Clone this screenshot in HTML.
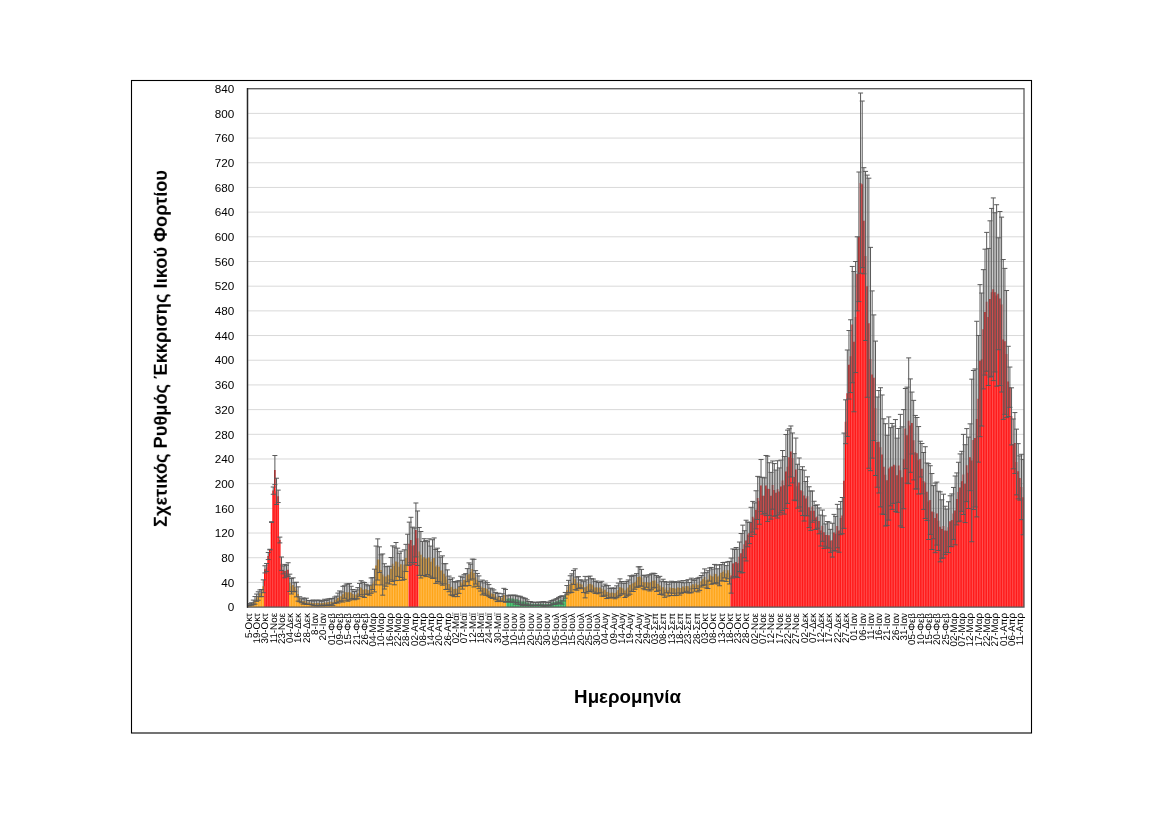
<!DOCTYPE html><html><head><meta charset="utf-8"><style>html,body{margin:0;padding:0;background:#fff;}svg{display:block;}</style></head><body><svg width="1169" height="826" viewBox="0 0 1169 826" font-family="Liberation Sans, sans-serif"><rect x="0" y="0" width="1169" height="826" fill="#fff"/><rect x="131.5" y="80.5" width="900" height="652.5" fill="none" stroke="#000" stroke-width="1.1"/><path d="M247.5 582.41H1024.0 M247.5 557.73H1024.0 M247.5 533.04H1024.0 M247.5 508.36H1024.0 M247.5 483.67H1024.0 M247.5 458.99H1024.0 M247.5 434.30H1024.0 M247.5 409.61H1024.0 M247.5 384.93H1024.0 M247.5 360.24H1024.0 M247.5 335.56H1024.0 M247.5 310.87H1024.0 M247.5 286.19H1024.0 M247.5 261.50H1024.0 M247.5 236.81H1024.0 M247.5 212.13H1024.0 M247.5 187.44H1024.0 M247.5 162.76H1024.0 M247.5 138.07H1024.0 M247.5 113.39H1024.0 M247.5 88.70H1024.0" stroke="#D9D9D9" stroke-width="1" fill="none"/><path d="M247.47 607.10V605.29H249.18V607.10ZM249.13 607.10V604.69H250.84V607.10ZM250.79 607.10V603.91H252.50V607.10ZM252.45 607.10V602.41H254.16V607.10ZM254.11 607.10V600.33H255.82V607.10ZM255.77 607.10V597.69H257.48V607.10ZM257.43 607.10V596.00H259.14V607.10ZM259.09 607.10V593.30H260.80V607.10ZM260.75 607.10V593.08H262.46V607.10ZM262.41 607.10V586.28H264.12V607.10ZM288.95 607.10V582.81H290.66V607.10ZM290.61 607.10V586.27H292.32V607.10ZM292.27 607.10V584.88H293.98V607.10ZM293.93 607.10V587.10H295.64V607.10ZM295.59 607.10V589.54H297.30V607.10ZM297.25 607.10V593.99H298.96V607.10ZM298.91 607.10V599.26H300.62V607.10ZM300.57 607.10V600.79H302.28V607.10ZM302.23 607.10V601.03H303.94V607.10ZM303.89 607.10V601.30H305.60V607.10ZM305.55 607.10V601.29H307.26V607.10ZM307.21 607.10V602.46H308.91V607.10ZM308.86 607.10V602.43H310.57V607.10ZM310.52 607.10V602.80H312.23V607.10ZM312.18 607.10V602.88H313.89V607.10ZM313.84 607.10V603.14H315.55V607.10ZM315.50 607.10V603.05H317.21V607.10ZM317.16 607.10V602.95H318.87V607.10ZM318.82 607.10V603.04H320.53V607.10ZM320.48 607.10V603.19H322.19V607.10ZM322.14 607.10V603.07H323.85V607.10ZM323.80 607.10V602.41H325.51V607.10ZM325.46 607.10V602.73H327.17V607.10ZM327.12 607.10V602.24H328.83V607.10ZM328.78 607.10V602.02H330.48V607.10ZM330.43 607.10V601.61H332.14V607.10ZM332.09 607.10V602.03H333.80V607.10ZM333.75 607.10V600.24H335.46V607.10ZM335.41 607.10V599.39H337.12V607.10ZM337.07 607.10V598.05H338.78V607.10ZM338.73 607.10V596.39H340.44V607.10ZM340.39 607.10V596.36H342.10V607.10ZM342.05 607.10V594.16H343.76V607.10ZM343.71 607.10V592.00H345.42V607.10ZM345.37 607.10V592.13H347.08V607.10ZM347.03 607.10V592.59H348.74V607.10ZM348.69 607.10V591.88H350.39V607.10ZM350.34 607.10V592.71H352.05V607.10ZM352.00 607.10V593.99H353.71V607.10ZM353.66 607.10V595.65H355.37V607.10ZM355.32 607.10V594.45H357.03V607.10ZM356.98 607.10V593.23H358.69V607.10ZM358.64 607.10V589.80H360.35V607.10ZM360.30 607.10V587.75H362.01V607.10ZM361.96 607.10V589.41H363.67V607.10ZM363.62 607.10V590.00H365.33V607.10ZM365.28 607.10V589.26H366.99V607.10ZM366.94 607.10V590.06H368.65V607.10ZM368.60 607.10V590.16H370.30V607.10ZM370.25 607.10V585.61H371.96V607.10ZM371.91 607.10V583.58H373.62V607.10ZM373.57 607.10V580.54H375.28V607.10ZM375.23 607.10V565.45H376.94V607.10ZM376.89 607.10V559.46H378.60V607.10ZM378.55 607.10V559.70H380.26V607.10ZM380.21 607.10V569.89H381.92V607.10ZM381.87 607.10V574.55H383.58V607.10ZM383.53 607.10V576.39H385.24V607.10ZM385.19 607.10V576.45H386.90V607.10ZM386.85 607.10V574.67H388.56V607.10ZM388.51 607.10V575.17H390.22V607.10ZM390.17 607.10V568.79H391.87V607.10ZM391.82 607.10V563.65H393.53V607.10ZM393.48 607.10V565.91H395.19V607.10ZM395.14 607.10V561.56H396.85V607.10ZM396.80 607.10V562.28H398.51V607.10ZM398.46 607.10V566.78H400.17V607.10ZM400.12 607.10V564.35H401.83V607.10ZM401.78 607.10V570.21H403.49V607.10ZM403.44 607.10V564.59H405.15V607.10ZM405.10 607.10V557.95H406.81V607.10ZM406.76 607.10V549.67H408.47V607.10ZM418.37 607.10V551.40H420.08V607.10ZM420.03 607.10V554.75H421.74V607.10ZM421.69 607.10V558.43H423.40V607.10ZM423.35 607.10V557.15H425.06V607.10ZM425.01 607.10V558.62H426.72V607.10ZM426.67 607.10V558.16H428.38V607.10ZM428.33 607.10V557.45H430.04V607.10ZM429.99 607.10V561.67H431.69V607.10ZM431.64 607.10V559.07H433.35V607.10ZM433.30 607.10V558.02H435.01V607.10ZM434.96 607.10V566.43H436.67V607.10ZM436.62 607.10V564.88H438.33V607.10ZM438.28 607.10V566.83H439.99V607.10ZM439.94 607.10V570.59H441.65V607.10ZM441.60 607.10V570.53H443.31V607.10ZM443.26 607.10V573.79H444.97V607.10ZM444.92 607.10V576.59H446.63V607.10ZM446.58 607.10V579.58H448.29V607.10ZM448.24 607.10V583.91H449.95V607.10ZM449.90 607.10V587.21H451.61V607.10ZM451.56 607.10V586.77H453.26V607.10ZM453.21 607.10V589.09H454.92V607.10ZM454.87 607.10V588.39H456.58V607.10ZM456.53 607.10V588.88H458.24V607.10ZM458.19 607.10V587.02H459.90V607.10ZM459.85 607.10V581.46H461.56V607.10ZM461.51 607.10V583.17H463.22V607.10ZM463.17 607.10V580.08H464.88V607.10ZM464.83 607.10V579.87H466.54V607.10ZM466.49 607.10V575.18H468.20V607.10ZM468.15 607.10V574.23H469.86V607.10ZM469.81 607.10V572.12H471.52V607.10ZM471.47 607.10V569.06H473.17V607.10ZM473.12 607.10V573.12H474.83V607.10ZM474.78 607.10V577.33H476.49V607.10ZM476.44 607.10V579.85H478.15V607.10ZM478.10 607.10V582.30H479.81V607.10ZM479.76 607.10V586.25H481.47V607.10ZM481.42 607.10V587.48H483.13V607.10ZM483.08 607.10V588.06H484.79V607.10ZM484.74 607.10V588.04H486.45V607.10ZM486.40 607.10V588.99H488.11V607.10ZM488.06 607.10V590.63H489.77V607.10ZM489.72 607.10V592.84H491.43V607.10ZM491.38 607.10V593.67H493.08V607.10ZM493.03 607.10V593.95H494.74V607.10ZM494.69 607.10V596.05H496.40V607.10ZM496.35 607.10V597.48H498.06V607.10ZM498.01 607.10V597.10H499.72V607.10ZM499.67 607.10V598.84H501.38V607.10ZM501.33 607.10V597.67H503.04V607.10ZM502.99 607.10V594.90H504.70V607.10ZM504.65 607.10V595.87H506.36V607.10ZM566.04 607.10V590.16H567.75V607.10ZM567.70 607.10V586.68H569.41V607.10ZM569.36 607.10V584.24H571.07V607.10ZM571.02 607.10V583.07H572.73V607.10ZM572.68 607.10V577.43H574.39V607.10ZM574.34 607.10V579.28H576.04V607.10ZM575.99 607.10V583.57H577.70V607.10ZM577.65 607.10V582.58H579.36V607.10ZM579.31 607.10V583.77H581.02V607.10ZM580.97 607.10V584.44H582.68V607.10ZM582.63 607.10V586.92H584.34V607.10ZM584.29 607.10V587.13H586.00V607.10ZM585.95 607.10V586.50H587.66V607.10ZM587.61 607.10V584.17H589.32V607.10ZM589.27 607.10V583.82H590.98V607.10ZM590.93 607.10V584.44H592.64V607.10ZM592.59 607.10V585.55H594.30V607.10ZM594.25 607.10V587.38H595.95V607.10ZM595.90 607.10V587.13H597.61V607.10ZM597.56 607.10V588.19H599.27V607.10ZM599.22 607.10V587.61H600.93V607.10ZM600.88 607.10V588.67H602.59V607.10ZM602.54 607.10V591.24H604.25V607.10ZM604.20 607.10V589.68H605.91V607.10ZM605.86 607.10V592.00H607.57V607.10ZM607.52 607.10V591.70H609.23V607.10ZM609.18 607.10V593.29H610.89V607.10ZM610.84 607.10V592.62H612.55V607.10ZM612.50 607.10V593.10H614.21V607.10ZM614.16 607.10V593.37H615.86V607.10ZM615.81 607.10V591.76H617.52V607.10ZM617.47 607.10V589.98H619.18V607.10ZM619.13 607.10V587.15H620.84V607.10ZM620.79 607.10V587.78H622.50V607.10ZM622.45 607.10V588.57H624.16V607.10ZM624.11 607.10V590.41H625.82V607.10ZM625.77 607.10V588.82H627.48V607.10ZM627.43 607.10V587.62H629.14V607.10ZM629.09 607.10V584.98H630.80V607.10ZM630.75 607.10V583.80H632.46V607.10ZM632.41 607.10V583.33H634.12V607.10ZM634.07 607.10V582.45H635.77V607.10ZM635.73 607.10V580.38H637.43V607.10ZM637.38 607.10V577.03H639.09V607.10ZM639.04 607.10V576.41H640.75V607.10ZM640.70 607.10V577.74H642.41V607.10ZM642.36 607.10V582.05H644.07V607.10ZM644.02 607.10V582.50H645.73V607.10ZM645.68 607.10V582.09H647.39V607.10ZM647.34 607.10V582.41H649.05V607.10ZM649.00 607.10V582.84H650.71V607.10ZM650.66 607.10V581.81H652.37V607.10ZM652.32 607.10V580.64H654.03V607.10ZM653.98 607.10V580.52H655.69V607.10ZM655.64 607.10V583.50H657.34V607.10ZM657.29 607.10V583.82H659.00V607.10ZM658.95 607.10V585.38H660.66V607.10ZM660.61 607.10V587.66H662.32V607.10ZM662.27 607.10V587.19H663.98V607.10ZM663.93 607.10V589.39H665.64V607.10ZM665.59 607.10V587.45H667.30V607.10ZM667.25 607.10V590.13H668.96V607.10ZM668.91 607.10V587.57H670.62V607.10ZM670.57 607.10V588.36H672.28V607.10ZM672.23 607.10V587.95H673.94V607.10ZM673.89 607.10V588.62H675.60V607.10ZM675.55 607.10V588.77H677.25V607.10ZM677.20 607.10V587.61H678.91V607.10ZM678.86 607.10V588.07H680.57V607.10ZM680.52 607.10V587.93H682.23V607.10ZM682.18 607.10V586.50H683.89V607.10ZM683.84 607.10V587.71H685.55V607.10ZM685.50 607.10V586.02H687.21V607.10ZM687.16 607.10V586.29H688.87V607.10ZM688.82 607.10V587.66H690.53V607.10ZM690.48 607.10V585.46H692.19V607.10ZM692.14 607.10V584.33H693.85V607.10ZM693.80 607.10V585.77H695.51V607.10ZM695.46 607.10V583.59H697.16V607.10ZM697.11 607.10V584.89H698.82V607.10ZM698.77 607.10V583.81H700.48V607.10ZM700.43 607.10V581.28H702.14V607.10ZM702.09 607.10V579.27H703.80V607.10ZM703.75 607.10V576.88H705.46V607.10ZM705.41 607.10V580.30H707.12V607.10ZM707.07 607.10V579.62H708.78V607.10ZM708.73 607.10V574.56H710.44V607.10ZM710.39 607.10V575.84H712.10V607.10ZM712.05 607.10V576.39H713.76V607.10ZM713.71 607.10V573.85H715.42V607.10ZM715.37 607.10V573.89H717.08V607.10ZM717.03 607.10V576.42H718.73V607.10ZM718.68 607.10V575.31H720.39V607.10ZM720.34 607.10V572.73H722.05V607.10ZM722.00 607.10V571.70H723.71V607.10ZM723.66 607.10V570.11H725.37V607.10ZM725.32 607.10V573.50H727.03V607.10ZM726.98 607.10V570.28H728.69V607.10ZM728.64 607.10V572.70H730.35V607.10Z" fill="#FF9C00"/><path d="M264.07 607.10V569.34H265.78V607.10ZM265.73 607.10V567.49H267.44V607.10ZM267.39 607.10V556.03H269.09V607.10ZM269.04 607.10V549.60H270.75V607.10ZM270.70 607.10V522.07H272.41V607.10ZM272.36 607.10V490.62H274.07V607.10ZM274.02 607.10V470.09H275.73V607.10ZM275.68 607.10V491.36H277.39V607.10ZM277.34 607.10V496.33H279.05V607.10ZM279.00 607.10V540.01H280.71V607.10ZM280.66 607.10V563.69H282.37V607.10ZM282.32 607.10V569.88H284.03V607.10ZM283.98 607.10V571.09H285.69V607.10ZM285.64 607.10V570.60H287.35V607.10ZM287.30 607.10V569.71H289.00V607.10ZM408.42 607.10V543.73H410.13V607.10ZM410.08 607.10V539.91H411.78V607.10ZM411.73 607.10V545.65H413.44V607.10ZM413.39 607.10V545.27H415.10V607.10ZM415.05 607.10V529.96H416.76V607.10ZM416.71 607.10V538.21H418.42V607.10ZM730.30 607.10V575.59H732.01V607.10ZM731.96 607.10V563.48H733.67V607.10ZM733.62 607.10V563.16H735.33V607.10ZM735.28 607.10V561.95H736.99V607.10ZM736.94 607.10V563.33H738.64V607.10ZM738.59 607.10V556.78H740.30V607.10ZM740.25 607.10V553.23H741.96V607.10ZM741.91 607.10V548.88H743.62V607.10ZM743.57 607.10V544.23H745.28V607.10ZM745.23 607.10V540.58H746.94V607.10ZM746.89 607.10V534.39H748.60V607.10ZM748.55 607.10V533.03H750.26V607.10ZM750.21 607.10V521.88H751.92V607.10ZM751.87 607.10V516.74H753.58V607.10ZM753.53 607.10V518.59H755.24V607.10ZM755.19 607.10V509.82H756.90V607.10ZM756.85 607.10V497.93H758.55V607.10ZM758.50 607.10V500.63H760.21V607.10ZM760.16 607.10V485.56H761.87V607.10ZM761.82 607.10V495.73H763.53V607.10ZM763.48 607.10V495.63H765.19V607.10ZM765.14 607.10V485.56H766.85V607.10ZM766.80 607.10V488.79H768.51V607.10ZM768.46 607.10V489.07H770.17V607.10ZM770.12 607.10V495.78H771.83V607.10ZM771.78 607.10V485.09H773.49V607.10ZM773.44 607.10V489.92H775.15V607.10ZM775.10 607.10V492.87H776.81V607.10ZM776.76 607.10V489.37H778.47V607.10ZM778.42 607.10V491.40H780.12V607.10ZM780.07 607.10V486.50H781.78V607.10ZM781.73 607.10V480.58H783.44V607.10ZM783.39 607.10V485.32H785.10V607.10ZM785.05 607.10V471.47H786.76V607.10ZM786.71 607.10V466.76H788.42V607.10ZM788.37 607.10V457.23H790.08V607.10ZM790.03 607.10V451.46H791.74V607.10ZM791.69 607.10V457.97H793.40V607.10ZM793.35 607.10V476.90H795.06V607.10ZM795.01 607.10V469.38H796.72V607.10ZM796.67 607.10V486.21H798.38V607.10ZM798.33 607.10V482.49H800.03V607.10ZM799.98 607.10V490.28H801.69V607.10ZM801.64 607.10V491.16H803.35V607.10ZM803.30 607.10V495.61H805.01V607.10ZM804.96 607.10V498.53H806.67V607.10ZM806.62 607.10V496.36H808.33V607.10ZM808.28 607.10V507.18H809.99V607.10ZM809.94 607.10V510.69H811.65V607.10ZM811.60 607.10V506.58H813.31V607.10ZM813.26 607.10V510.83H814.97V607.10ZM814.92 607.10V517.50H816.63V607.10ZM816.58 607.10V516.52H818.29V607.10ZM818.24 607.10V520.89H819.94V607.10ZM819.89 607.10V530.55H821.60V607.10ZM821.55 607.10V525.67H823.26V607.10ZM823.21 607.10V532.17H824.92V607.10ZM824.87 607.10V535.10H826.58V607.10ZM826.53 607.10V534.67H828.24V607.10ZM828.19 607.10V535.14H829.90V607.10ZM829.85 607.10V540.81H831.56V607.10ZM831.51 607.10V540.16H833.22V607.10ZM833.17 607.10V532.53H834.88V607.10ZM834.83 607.10V533.67H836.54V607.10ZM836.49 607.10V526.08H838.20V607.10ZM838.15 607.10V530.59H839.86V607.10ZM839.81 607.10V518.11H841.51V607.10ZM841.46 607.10V515.60H843.17V607.10ZM843.12 607.10V480.72H844.83V607.10ZM844.78 607.10V421.76H846.49V607.10ZM846.44 607.10V393.22H848.15V607.10ZM848.10 607.10V364.80H849.81V607.10ZM849.76 607.10V356.19H851.47V607.10ZM851.42 607.10V324.60H853.13V607.10ZM853.08 607.10V341.65H854.79V607.10ZM854.74 607.10V317.04H856.45V607.10ZM856.40 607.10V273.84H858.11V607.10ZM858.06 607.10V236.81H859.77V607.10ZM859.72 607.10V183.12H861.42V607.10ZM861.37 607.10V184.36H863.08V607.10ZM863.03 607.10V220.77H864.74V607.10ZM864.69 607.10V255.95H866.40V607.10ZM866.35 607.10V286.19H868.06V607.10ZM868.01 607.10V323.21H869.72V607.10ZM869.67 607.10V359.02H871.38V607.10ZM871.33 607.10V374.53H873.04V607.10ZM872.99 607.10V377.73H874.70V607.10ZM874.65 607.10V408.30H876.36V607.10ZM876.31 607.10V442.12H878.02V607.10ZM877.97 607.10V441.78H879.68V607.10ZM879.63 607.10V447.31H881.33V607.10ZM881.28 607.10V454.51H882.99V607.10ZM882.94 607.10V466.65H884.65V607.10ZM884.60 607.10V474.86H886.31V607.10ZM886.26 607.10V480.32H887.97V607.10ZM887.92 607.10V468.52H889.63V607.10ZM889.58 607.10V466.76H891.29V607.10ZM891.24 607.10V466.40H892.95V607.10ZM892.90 607.10V464.71H894.61V607.10ZM894.56 607.10V465.50H896.27V607.10ZM896.22 607.10V475.21H897.93V607.10ZM897.88 607.10V465.42H899.59V607.10ZM899.54 607.10V470.17H901.25V607.10ZM901.20 607.10V477.13H902.90V607.10ZM902.85 607.10V459.19H904.56V607.10ZM904.51 607.10V428.58H906.22V607.10ZM906.17 607.10V435.13H907.88V607.10ZM907.83 607.10V420.80H909.54V607.10ZM909.49 607.10V425.60H911.20V607.10ZM911.15 607.10V423.03H912.86V607.10ZM912.81 607.10V440.14H914.52V607.10ZM914.47 607.10V452.20H916.18V607.10ZM916.13 607.10V453.24H917.84V607.10ZM917.79 607.10V460.27H919.50V607.10ZM919.45 607.10V459.12H921.16V607.10ZM921.11 607.10V468.65H922.81V607.10ZM922.76 607.10V480.92H924.47V607.10ZM924.42 607.10V482.59H926.13V607.10ZM926.08 607.10V491.77H927.79V607.10ZM927.74 607.10V501.59H929.45V607.10ZM929.40 607.10V500.06H931.11V607.10ZM931.06 607.10V511.53H932.77V607.10ZM932.72 607.10V512.20H934.43V607.10ZM934.38 607.10V517.88H936.09V607.10ZM936.04 607.10V513.58H937.75V607.10ZM937.70 607.10V520.85H939.41V607.10ZM939.36 607.10V526.85H941.07V607.10ZM941.02 607.10V529.12H942.72V607.10ZM942.67 607.10V526.03H944.38V607.10ZM944.33 607.10V530.42H946.04V607.10ZM945.99 607.10V530.79H947.70V607.10ZM947.65 607.10V527.20H949.36V607.10ZM949.31 607.10V521.16H951.02V607.10ZM950.97 607.10V520.30H952.68V607.10ZM952.63 607.10V513.42H954.34V607.10ZM954.29 607.10V510.42H956.00V607.10ZM955.95 607.10V498.90H957.66V607.10ZM957.61 607.10V492.03H959.32V607.10ZM959.27 607.10V487.50H960.98V607.10ZM960.93 607.10V481.34H962.64V607.10ZM962.59 607.10V474.44H964.29V607.10ZM964.24 607.10V483.63H965.95V607.10ZM965.90 607.10V465.13H967.61V607.10ZM967.56 607.10V472.80H969.27V607.10ZM969.22 607.10V457.26H970.93V607.10ZM970.88 607.10V460.45H972.59V607.10ZM972.54 607.10V439.96H974.25V607.10ZM974.20 607.10V437.95H975.91V607.10ZM975.86 607.10V419.08H977.57V607.10ZM977.52 607.10V398.79H979.23V607.10ZM979.18 607.10V360.67H980.89V607.10ZM980.84 607.10V359.53H982.55V607.10ZM982.50 607.10V329.28H984.20V607.10ZM984.15 607.10V312.12H985.86V607.10ZM985.81 607.10V301.79H987.52V607.10ZM987.47 607.10V316.95H989.18V607.10ZM989.13 607.10V298.91H990.84V607.10ZM990.79 607.10V292.36H992.50V607.10ZM992.45 607.10V289.27H994.16V607.10ZM994.11 607.10V292.36H995.82V607.10ZM995.77 607.10V295.44H997.48V607.10ZM997.43 607.10V293.77H999.14V607.10ZM999.09 607.10V298.53H1000.80V607.10ZM1000.75 607.10V304.58H1002.46V607.10ZM1002.41 607.10V339.45H1004.11V607.10ZM1004.06 607.10V341.37H1005.77V607.10ZM1005.72 607.10V354.09H1007.43V607.10ZM1007.38 607.10V381.41H1009.09V607.10ZM1009.04 607.10V387.19H1010.75V607.10ZM1010.70 607.10V416.37H1012.41V607.10ZM1012.36 607.10V443.90H1014.07V607.10ZM1014.02 607.10V443.04H1015.73V607.10ZM1015.68 607.10V462.02H1017.39V607.10ZM1017.34 607.10V471.27H1019.05V607.10ZM1019.00 607.10V478.01H1020.71V607.10ZM1020.66 607.10V486.97H1022.37V607.10ZM1022.32 607.10V497.17H1024.03V607.10Z" fill="#FF0000"/><path d="M506.31 607.10V598.67H508.02V607.10ZM507.97 607.10V598.33H509.68V607.10ZM509.63 607.10V598.73H511.34V607.10ZM511.29 607.10V598.41H513.00V607.10ZM512.95 607.10V598.71H514.65V607.10ZM514.60 607.10V599.66H516.31V607.10ZM516.26 607.10V599.29H517.97V607.10ZM517.92 607.10V600.15H519.63V607.10ZM519.58 607.10V600.39H521.29V607.10ZM521.24 607.10V601.38H522.95V607.10ZM522.90 607.10V601.16H524.61V607.10ZM524.56 607.10V601.81H526.27V607.10ZM526.22 607.10V602.59H527.93V607.10ZM527.88 607.10V603.22H529.59V607.10ZM529.54 607.10V603.56H531.25V607.10ZM531.20 607.10V603.94H532.91V607.10ZM532.86 607.10V603.90H534.56V607.10ZM534.51 607.10V603.84H536.22V607.10ZM536.17 607.10V603.94H537.88V607.10ZM537.83 607.10V603.70H539.54V607.10ZM539.49 607.10V603.80H541.20V607.10ZM541.15 607.10V603.63H542.86V607.10ZM542.81 607.10V603.91H544.52V607.10ZM544.47 607.10V603.95H546.18V607.10ZM546.13 607.10V603.99H547.84V607.10ZM547.79 607.10V603.99H549.50V607.10ZM549.45 607.10V603.44H551.16V607.10ZM551.11 607.10V602.59H552.82V607.10ZM552.77 607.10V601.99H554.47V607.10ZM554.42 607.10V601.72H556.13V607.10ZM556.08 607.10V601.30H557.79V607.10ZM557.74 607.10V600.13H559.45V607.10ZM559.40 607.10V599.81H561.11V607.10ZM561.06 607.10V599.99H562.77V607.10ZM562.72 607.10V598.56H564.43V607.10ZM564.38 607.10V595.30H566.09V607.10Z" fill="#21A94E"/><path d="M249.16 607.10V605.29M250.82 607.10V604.69M252.48 607.10V603.91M254.14 607.10V602.41M255.80 607.10V600.33M257.46 607.10V597.69M259.11 607.10V596.00M260.77 607.10V593.30M262.43 607.10V593.08M264.09 607.10V586.28M265.75 607.10V569.34M267.41 607.10V567.49M269.07 607.10V556.03M270.73 607.10V549.60M272.39 607.10V522.07M274.05 607.10V490.62M275.71 607.10V470.09M277.37 607.10V491.36M279.02 607.10V496.33M280.68 607.10V540.01M282.34 607.10V563.69M284.00 607.10V569.88M285.66 607.10V571.09M287.32 607.10V570.60M288.98 607.10V569.71M290.64 607.10V582.81M292.30 607.10V586.27M293.96 607.10V584.88M295.62 607.10V587.10M297.28 607.10V589.54M298.93 607.10V593.99M300.59 607.10V599.26M302.25 607.10V600.79M303.91 607.10V601.03M305.57 607.10V601.30M307.23 607.10V601.29M308.89 607.10V602.46M310.55 607.10V602.43M312.21 607.10V602.80M313.87 607.10V602.88M315.53 607.10V603.14M317.19 607.10V603.05M318.85 607.10V602.95M320.50 607.10V603.04M322.16 607.10V603.19M323.82 607.10V603.07M325.48 607.10V602.41M327.14 607.10V602.73M328.80 607.10V602.24M330.46 607.10V602.02M332.12 607.10V601.61M333.78 607.10V602.03M335.44 607.10V600.24M337.10 607.10V599.39M338.76 607.10V598.05M340.41 607.10V596.39M342.07 607.10V596.36M343.73 607.10V594.16M345.39 607.10V592.00M347.05 607.10V592.13M348.71 607.10V592.59M350.37 607.10V591.88M352.03 607.10V592.71M353.69 607.10V593.99M355.35 607.10V595.65M357.01 607.10V594.45M358.67 607.10V593.23M360.32 607.10V589.80M361.98 607.10V587.75M363.64 607.10V589.41M365.30 607.10V590.00M366.96 607.10V589.26M368.62 607.10V590.06M370.28 607.10V590.16M371.94 607.10V585.61M373.60 607.10V583.58M375.26 607.10V580.54M376.92 607.10V565.45M378.58 607.10V559.46M380.24 607.10V559.70M381.89 607.10V569.89M383.55 607.10V574.55M385.21 607.10V576.39M386.87 607.10V576.45M388.53 607.10V574.67M390.19 607.10V575.17M391.85 607.10V568.79M393.51 607.10V563.65M395.17 607.10V565.91M396.83 607.10V561.56M398.49 607.10V562.28M400.15 607.10V566.78M401.80 607.10V564.35M403.46 607.10V570.21M405.12 607.10V564.59M406.78 607.10V557.95M408.44 607.10V549.67M410.10 607.10V543.73M411.76 607.10V539.91M413.42 607.10V545.65M415.08 607.10V545.27M416.74 607.10V529.96M418.40 607.10V538.21M420.06 607.10V551.40M421.71 607.10V554.75M423.37 607.10V558.43M425.03 607.10V557.15M426.69 607.10V558.62M428.35 607.10V558.16M430.01 607.10V557.45M431.67 607.10V561.67M433.33 607.10V559.07M434.99 607.10V558.02M436.65 607.10V566.43M438.31 607.10V564.88M439.97 607.10V566.83M441.62 607.10V570.59M443.28 607.10V570.53M444.94 607.10V573.79M446.60 607.10V576.59M448.26 607.10V579.58M449.92 607.10V583.91M451.58 607.10V587.21M453.24 607.10V586.77M454.90 607.10V589.09M456.56 607.10V588.39M458.22 607.10V588.88M459.88 607.10V587.02M461.54 607.10V581.46M463.19 607.10V583.17M464.85 607.10V580.08M466.51 607.10V579.87M468.17 607.10V575.18M469.83 607.10V574.23M471.49 607.10V572.12M473.15 607.10V569.06M474.81 607.10V573.12M476.47 607.10V577.33M478.13 607.10V579.85M479.79 607.10V582.30M481.45 607.10V586.25M483.10 607.10V587.48M484.76 607.10V588.06M486.42 607.10V588.04M488.08 607.10V588.99M489.74 607.10V590.63M491.40 607.10V592.84M493.06 607.10V593.67M494.72 607.10V593.95M496.38 607.10V596.05M498.04 607.10V597.48M499.70 607.10V597.10M501.36 607.10V598.84M503.01 607.10V597.67M504.67 607.10V594.90M506.33 607.10V595.87M507.99 607.10V598.67M509.65 607.10V598.33M511.31 607.10V598.73M512.97 607.10V598.41M514.63 607.10V598.71M516.29 607.10V599.66M517.95 607.10V599.29M519.61 607.10V600.15M521.27 607.10V600.39M522.93 607.10V601.38M524.58 607.10V601.16M526.24 607.10V601.81M527.90 607.10V602.59M529.56 607.10V603.22M531.22 607.10V603.56M532.88 607.10V603.94M534.54 607.10V603.90M536.20 607.10V603.84M537.86 607.10V603.94M539.52 607.10V603.70M541.18 607.10V603.80M542.84 607.10V603.63M544.49 607.10V603.91M546.15 607.10V603.95M547.81 607.10V603.99M549.47 607.10V603.99M551.13 607.10V603.44M552.79 607.10V602.59M554.45 607.10V601.99M556.11 607.10V601.72M557.77 607.10V601.30M559.43 607.10V600.13M561.09 607.10V599.81M562.75 607.10V599.99M564.40 607.10V598.56M566.06 607.10V595.30M567.72 607.10V590.16M569.38 607.10V586.68M571.04 607.10V584.24M572.70 607.10V583.07M574.36 607.10V577.43M576.02 607.10V579.28M577.68 607.10V583.57M579.34 607.10V582.58M581.00 607.10V583.77M582.66 607.10V584.44M584.32 607.10V586.92M585.97 607.10V587.13M587.63 607.10V586.50M589.29 607.10V584.17M590.95 607.10V583.82M592.61 607.10V584.44M594.27 607.10V585.55M595.93 607.10V587.38M597.59 607.10V587.13M599.25 607.10V588.19M600.91 607.10V587.61M602.57 607.10V588.67M604.23 607.10V591.24M605.88 607.10V589.68M607.54 607.10V592.00M609.20 607.10V591.70M610.86 607.10V593.29M612.52 607.10V592.62M614.18 607.10V593.10M615.84 607.10V593.37M617.50 607.10V591.76M619.16 607.10V589.98M620.82 607.10V587.15M622.48 607.10V587.78M624.14 607.10V588.57M625.79 607.10V590.41M627.45 607.10V588.82M629.11 607.10V587.62M630.77 607.10V584.98M632.43 607.10V583.80M634.09 607.10V583.33M635.75 607.10V582.45M637.41 607.10V580.38M639.07 607.10V577.03M640.73 607.10V576.41M642.39 607.10V577.74M644.05 607.10V582.05M645.71 607.10V582.50M647.36 607.10V582.09M649.02 607.10V582.41M650.68 607.10V582.84M652.34 607.10V581.81M654.00 607.10V580.64M655.66 607.10V580.52M657.32 607.10V583.50M658.98 607.10V583.82M660.64 607.10V585.38M662.30 607.10V587.66M663.96 607.10V587.19M665.62 607.10V589.39M667.27 607.10V587.45M668.93 607.10V590.13M670.59 607.10V587.57M672.25 607.10V588.36M673.91 607.10V587.95M675.57 607.10V588.62M677.23 607.10V588.77M678.89 607.10V587.61M680.55 607.10V588.07M682.21 607.10V587.93M683.87 607.10V586.50M685.53 607.10V587.71M687.18 607.10V586.02M688.84 607.10V586.29M690.50 607.10V587.66M692.16 607.10V585.46M693.82 607.10V584.33M695.48 607.10V585.77M697.14 607.10V583.59M698.80 607.10V584.89M700.46 607.10V583.81M702.12 607.10V581.28M703.78 607.10V579.27M705.44 607.10V576.88M707.10 607.10V580.30M708.75 607.10V579.62M710.41 607.10V574.56M712.07 607.10V575.84M713.73 607.10V576.39M715.39 607.10V573.85M717.05 607.10V573.89M718.71 607.10V576.42M720.37 607.10V575.31M722.03 607.10V572.73M723.69 607.10V571.70M725.35 607.10V570.11M727.01 607.10V573.50M728.66 607.10V570.28M730.32 607.10V572.70M731.98 607.10V575.59M733.64 607.10V563.48M735.30 607.10V563.16M736.96 607.10V561.95M738.62 607.10V563.33M740.28 607.10V556.78M741.94 607.10V553.23M743.60 607.10V548.88M745.26 607.10V544.23M746.92 607.10V540.58M748.57 607.10V534.39M750.23 607.10V533.03M751.89 607.10V521.88M753.55 607.10V516.74M755.21 607.10V518.59M756.87 607.10V509.82M758.53 607.10V497.93M760.19 607.10V500.63M761.85 607.10V485.56M763.51 607.10V495.73M765.17 607.10V495.63M766.83 607.10V485.56M768.49 607.10V488.79M770.14 607.10V489.07M771.80 607.10V495.78M773.46 607.10V485.09M775.12 607.10V489.92M776.78 607.10V492.87M778.44 607.10V489.37M780.10 607.10V491.40M781.76 607.10V486.50M783.42 607.10V480.58M785.08 607.10V485.32M786.74 607.10V471.47M788.40 607.10V466.76M790.05 607.10V457.23M791.71 607.10V451.46M793.37 607.10V457.97M795.03 607.10V476.90M796.69 607.10V469.38M798.35 607.10V486.21M800.01 607.10V482.49M801.67 607.10V490.28M803.33 607.10V491.16M804.99 607.10V495.61M806.65 607.10V498.53M808.31 607.10V496.36M809.96 607.10V507.18M811.62 607.10V510.69M813.28 607.10V506.58M814.94 607.10V510.83M816.60 607.10V517.50M818.26 607.10V516.52M819.92 607.10V520.89M821.58 607.10V530.55M823.24 607.10V525.67M824.90 607.10V532.17M826.56 607.10V535.10M828.22 607.10V534.67M829.88 607.10V535.14M831.53 607.10V540.81M833.19 607.10V540.16M834.85 607.10V532.53M836.51 607.10V533.67M838.17 607.10V526.08M839.83 607.10V530.59M841.49 607.10V518.11M843.15 607.10V515.60M844.81 607.10V480.72M846.47 607.10V421.76M848.13 607.10V393.22M849.79 607.10V364.80M851.44 607.10V356.19M853.10 607.10V324.60M854.76 607.10V341.65M856.42 607.10V317.04M858.08 607.10V273.84M859.74 607.10V236.81M861.40 607.10V183.12M863.06 607.10V184.36M864.72 607.10V220.77M866.38 607.10V255.95M868.04 607.10V286.19M869.70 607.10V323.21M871.35 607.10V359.02M873.01 607.10V374.53M874.67 607.10V377.73M876.33 607.10V408.30M877.99 607.10V442.12M879.65 607.10V441.78M881.31 607.10V447.31M882.97 607.10V454.51M884.63 607.10V466.65M886.29 607.10V474.86M887.95 607.10V480.32M889.61 607.10V468.52M891.26 607.10V466.76M892.92 607.10V466.40M894.58 607.10V464.71M896.24 607.10V465.50M897.90 607.10V475.21M899.56 607.10V465.42M901.22 607.10V470.17M902.88 607.10V477.13M904.54 607.10V459.19M906.20 607.10V428.58M907.86 607.10V435.13M909.52 607.10V420.80M911.18 607.10V425.60M912.83 607.10V423.03M914.49 607.10V440.14M916.15 607.10V452.20M917.81 607.10V453.24M919.47 607.10V460.27M921.13 607.10V459.12M922.79 607.10V468.65M924.45 607.10V480.92M926.11 607.10V482.59M927.77 607.10V491.77M929.43 607.10V501.59M931.09 607.10V500.06M932.74 607.10V511.53M934.40 607.10V512.20M936.06 607.10V517.88M937.72 607.10V513.58M939.38 607.10V520.85M941.04 607.10V526.85M942.70 607.10V529.12M944.36 607.10V526.03M946.02 607.10V530.42M947.68 607.10V530.79M949.34 607.10V527.20M951.00 607.10V521.16M952.65 607.10V520.30M954.31 607.10V513.42M955.97 607.10V510.42M957.63 607.10V498.90M959.29 607.10V492.03M960.95 607.10V487.50M962.61 607.10V481.34M964.27 607.10V474.44M965.93 607.10V483.63M967.59 607.10V465.13M969.25 607.10V472.80M970.91 607.10V457.26M972.57 607.10V460.45M974.22 607.10V439.96M975.88 607.10V437.95M977.54 607.10V419.08M979.20 607.10V398.79M980.86 607.10V360.67M982.52 607.10V359.53M984.18 607.10V329.28M985.84 607.10V312.12M987.50 607.10V301.79M989.16 607.10V316.95M990.82 607.10V298.91M992.48 607.10V292.36M994.13 607.10V289.27M995.79 607.10V292.36M997.45 607.10V295.44M999.11 607.10V293.77M1000.77 607.10V298.53M1002.43 607.10V304.58M1004.09 607.10V339.45M1005.75 607.10V341.37M1007.41 607.10V354.09M1009.07 607.10V381.41M1010.73 607.10V387.19M1012.39 607.10V416.37M1014.04 607.10V443.90M1015.70 607.10V443.04M1017.36 607.10V462.02M1019.02 607.10V471.27M1020.68 607.10V478.01M1022.34 607.10V486.97M1024.00 607.10V497.17" stroke="#fff" stroke-opacity="0.8" stroke-width="0.4" fill="none"/><defs><clipPath id="pc"><rect x="247.5" y="68.7" width="776.5" height="538.4"/></clipPath></defs><path clip-path="url(#pc)" d="M248.33 604.81V605.78M245.83 604.81h5M245.83 605.78h5M249.99 603.64V605.74M247.49 603.64h5M247.49 605.74h5M251.65 602.72V605.11M249.15 602.72h5M249.15 605.11h5M253.31 600.10V604.72M250.81 600.10h5M250.81 604.72h5M254.97 596.56V604.11M252.47 596.56h5M252.47 604.11h5M256.63 594.05V601.33M254.13 594.05h5M254.13 601.33h5M258.28 591.79V600.22M255.78 591.79h5M255.78 600.22h5M259.94 589.88V596.72M257.44 589.88h5M257.44 596.72h5M261.60 589.54V596.61M259.10 589.54h5M259.10 596.61h5M263.26 579.87V592.68M260.76 579.87h5M260.76 592.68h5M264.92 565.75V572.93M262.42 565.75h5M262.42 572.93h5M266.58 563.54V571.44M264.08 563.54h5M264.08 571.44h5M268.24 552.48V559.58M265.74 552.48h5M265.74 559.58h5M269.90 549.28V549.92M267.40 549.28h5M267.40 549.92h5M271.56 521.74V522.41M269.06 521.74h5M269.06 522.41h5M273.22 486.99V494.26M270.72 486.99h5M270.72 494.26h5M274.88 455.53V484.66M272.38 455.53h5M272.38 484.66h5M276.54 478.22V504.49M274.04 478.22h5M274.04 504.49h5M278.19 490.11V502.55M275.69 490.11h5M275.69 502.55h5M279.85 537.12V542.90M277.35 537.12h5M277.35 542.90h5M281.51 557.00V570.39M279.01 557.00h5M279.01 570.39h5M283.17 565.90V573.87M280.67 565.90h5M280.67 573.87h5M284.83 564.42V577.77M282.33 564.42h5M282.33 577.77h5M286.49 565.22V575.99M283.99 565.22h5M283.99 575.99h5M288.15 562.74V576.69M285.65 562.74h5M285.65 576.69h5M289.81 574.16V591.45M287.31 574.16h5M287.31 591.45h5M291.47 578.56V593.98M288.97 578.56h5M288.97 593.98h5M293.13 577.84V591.92M290.63 577.84h5M290.63 591.92h5M294.79 582.72V591.48M292.29 582.72h5M292.29 591.48h5M296.45 582.24V596.83M293.95 582.24h5M293.95 596.83h5M298.11 586.87V601.11M295.61 586.87h5M295.61 601.11h5M299.76 596.78V601.74M297.26 596.78h5M297.26 601.74h5M301.42 598.83V602.75M298.92 598.83h5M298.92 602.75h5M303.08 597.94V604.11M300.58 597.94h5M300.58 604.11h5M304.74 598.93V603.67M302.24 598.93h5M302.24 603.67h5M306.40 598.20V604.37M303.90 598.20h5M303.90 604.37h5M308.06 600.48V604.43M305.56 600.48h5M305.56 604.43h5M309.72 600.44V604.42M307.22 600.44h5M307.22 604.42h5M311.38 600.83V604.76M308.88 600.83h5M308.88 604.76h5M313.04 599.98V605.78M310.54 599.98h5M310.54 605.78h5M314.70 600.93V605.35M312.20 600.93h5M312.20 605.35h5M316.36 600.37V605.72M313.86 600.37h5M313.86 605.72h5M318.02 600.05V605.86M315.52 600.05h5M315.52 605.86h5M319.67 600.40V605.67M317.17 600.40h5M317.17 605.67h5M321.33 601.31V605.06M318.83 601.31h5M318.83 605.06h5M322.99 600.36V605.78M320.49 600.36h5M320.49 605.78h5M324.65 599.26V605.55M322.15 599.26h5M322.15 605.55h5M326.31 600.45V605.00M323.81 600.45h5M323.81 605.00h5M327.97 599.04V605.43M325.47 599.04h5M325.47 605.43h5M329.63 598.87V605.16M327.13 598.87h5M327.13 605.16h5M331.29 598.41V604.81M328.79 598.41h5M328.79 604.81h5M332.95 598.75V605.31M330.45 598.75h5M330.45 605.31h5M334.61 597.05V603.43M332.11 597.05h5M332.11 603.43h5M336.27 596.15V602.63M333.77 596.15h5M333.77 602.63h5M337.93 593.08V603.02M335.43 593.08h5M335.43 603.02h5M339.58 590.96V601.81M337.08 590.96h5M337.08 601.81h5M341.24 591.92V600.80M338.74 591.92h5M338.74 600.80h5M342.90 586.32V602.01M340.40 586.32h5M340.40 602.01h5M344.56 585.77V598.24M342.06 585.77h5M342.06 598.24h5M346.22 584.05V600.20M343.72 584.05h5M343.72 600.20h5M347.88 583.96V601.22M345.38 583.96h5M345.38 601.22h5M349.54 583.65V600.12M347.04 583.65h5M347.04 600.12h5M351.20 586.26V599.16M348.70 586.26h5M348.70 599.16h5M352.86 589.53V598.45M350.36 589.53h5M350.36 598.45h5M354.52 591.55V599.75M352.02 591.55h5M352.02 599.75h5M356.18 589.91V598.99M353.68 589.91h5M353.68 598.99h5M357.84 587.63V598.84M355.34 587.63h5M355.34 598.84h5M359.50 583.38V596.21M357.00 583.38h5M357.00 596.21h5M361.15 580.75V594.75M358.65 580.75h5M358.65 594.75h5M362.81 582.12V596.70M360.31 582.12h5M360.31 596.70h5M364.47 582.56V597.45M361.97 582.56h5M361.97 597.45h5M366.13 584.28V594.24M363.63 584.28h5M363.63 594.24h5M367.79 585.83V594.28M365.29 585.83h5M365.29 594.28h5M369.45 585.17V595.16M366.95 585.17h5M366.95 595.16h5M371.11 577.93V593.28M368.61 577.93h5M368.61 593.28h5M372.77 577.59V589.56M370.27 577.59h5M370.27 589.56h5M374.43 569.18V591.90M371.93 569.18h5M371.93 591.90h5M376.09 546.04V584.86M373.59 546.04h5M373.59 584.86h5M377.75 538.88V580.04M375.25 538.88h5M375.25 580.04h5M379.41 546.85V572.56M376.91 546.85h5M376.91 572.56h5M381.06 554.84V584.94M378.56 554.84h5M378.56 584.94h5M382.72 553.95V595.16M380.22 553.95h5M380.22 595.16h5M384.38 563.74V589.05M381.88 563.74h5M381.88 589.05h5M386.04 566.70V586.21M383.54 566.70h5M383.54 586.21h5M387.70 566.32V583.03M385.20 566.32h5M385.20 583.03h5M389.36 566.32V584.01M386.86 566.32h5M386.86 584.01h5M391.02 557.53V580.05M388.52 557.53h5M388.52 580.05h5M392.68 545.86V581.43M390.18 545.86h5M390.18 581.43h5M394.34 547.02V584.81M391.84 547.02h5M391.84 584.81h5M396.00 542.53V580.59M393.50 542.53h5M393.50 580.59h5M397.66 548.16V576.40M395.16 548.16h5M395.16 576.40h5M399.32 553.27V580.30M396.82 553.27h5M396.82 580.30h5M400.97 551.19V577.50M398.47 551.19h5M398.47 577.50h5M402.63 560.22V580.20M400.13 560.22h5M400.13 580.20h5M404.29 549.83V579.35M401.79 549.83h5M401.79 579.35h5M405.95 544.35V571.54M403.45 544.35h5M403.45 571.54h5M407.61 534.23V565.10M405.11 534.23h5M405.11 565.10h5M409.27 522.14V565.32M406.77 522.14h5M406.77 565.32h5M410.93 517.29V562.54M408.43 517.29h5M408.43 562.54h5M412.59 527.17V564.13M410.09 527.17h5M410.09 564.13h5M414.25 528.04V562.50M411.75 528.04h5M411.75 562.50h5M415.91 502.99V556.93M413.41 502.99h5M413.41 556.93h5M417.57 510.98V565.45M415.07 510.98h5M415.07 565.45h5M419.23 527.47V575.33M416.73 527.47h5M416.73 575.33h5M420.89 531.51V577.99M418.39 531.51h5M418.39 577.99h5M422.54 541.41V575.45M420.04 541.41h5M420.04 575.45h5M424.20 538.73V575.56M421.70 538.73h5M421.70 575.56h5M425.86 540.64V576.60M423.36 540.64h5M423.36 576.60h5M427.52 541.71V574.61M425.02 541.71h5M425.02 574.61h5M429.18 538.82V576.07M426.68 538.82h5M426.68 576.07h5M430.84 546.08V577.25M428.34 546.08h5M428.34 577.25h5M432.50 539.72V578.42M430.00 539.72h5M430.00 578.42h5M434.16 537.94V578.09M431.66 537.94h5M431.66 578.09h5M435.82 549.49V583.37M433.32 549.49h5M433.32 583.37h5M437.48 548.20V581.56M434.98 548.20h5M434.98 581.56h5M439.14 551.61V582.06M436.64 551.61h5M436.64 582.06h5M440.80 557.24V583.93M438.30 557.24h5M438.30 583.93h5M442.45 555.86V585.20M439.95 555.86h5M439.95 585.20h5M444.11 563.68V583.91M441.61 563.68h5M441.61 583.91h5M445.77 563.70V589.48M443.27 563.70h5M443.27 589.48h5M447.43 569.89V589.26M444.93 569.89h5M444.93 589.26h5M449.09 576.08V591.74M446.59 576.08h5M446.59 591.74h5M450.75 579.49V594.92M448.25 579.49h5M448.25 594.92h5M452.41 577.94V595.60M449.91 577.94h5M449.91 595.60h5M454.07 581.54V596.65M451.57 581.54h5M451.57 596.65h5M455.73 582.11V594.67M453.23 582.11h5M453.23 594.67h5M457.39 581.15V596.60M454.89 581.15h5M454.89 596.60h5M459.05 580.68V593.35M456.55 580.68h5M456.55 593.35h5M460.71 576.23V586.68M458.21 576.23h5M458.21 586.68h5M462.36 577.27V589.08M459.86 577.27h5M459.86 589.08h5M464.02 574.74V585.43M461.52 574.74h5M461.52 585.43h5M465.68 573.65V586.09M463.18 573.65h5M463.18 586.09h5M467.34 568.64V581.73M464.84 568.64h5M464.84 581.73h5M469.00 562.89V585.57M466.50 562.89h5M466.50 585.57h5M470.66 564.21V580.04M468.16 564.21h5M468.16 580.04h5M472.32 559.12V579.00M469.82 559.12h5M469.82 579.00h5M473.98 559.31V586.94M471.48 559.31h5M471.48 586.94h5M475.64 570.64V584.02M473.14 570.64h5M473.14 584.02h5M477.30 573.43V586.28M474.80 573.43h5M474.80 586.28h5M478.96 575.92V588.67M476.46 575.92h5M476.46 588.67h5M480.62 581.46V591.05M478.12 581.46h5M478.12 591.05h5M482.28 580.09V594.88M479.78 580.09h5M479.78 594.88h5M483.93 582.83V593.30M481.43 582.83h5M481.43 593.30h5M485.59 580.97V595.11M483.09 580.97h5M483.09 595.11h5M487.25 582.67V595.31M484.75 582.67h5M484.75 595.31h5M488.91 584.59V596.67M486.41 584.59h5M486.41 596.67h5M490.57 588.17V597.52M488.07 588.17h5M488.07 597.52h5M492.23 588.80V598.54M489.73 588.80h5M489.73 598.54h5M493.89 589.91V597.99M491.39 589.91h5M491.39 597.99h5M495.55 592.38V599.72M493.05 592.38h5M493.05 599.72h5M497.21 593.37V601.60M494.71 593.37h5M494.71 601.60h5M498.87 593.22V600.98M496.37 593.22h5M496.37 600.98h5M500.53 596.56V601.11M498.03 596.56h5M498.03 601.11h5M502.19 593.73V601.61M499.69 593.73h5M499.69 601.61h5M503.84 588.34V601.46M501.34 588.34h5M501.34 601.46h5M505.50 589.45V602.28M503.00 589.45h5M503.00 602.28h5M507.16 595.81V601.53M504.66 595.81h5M504.66 601.53h5M508.82 595.23V601.44M506.32 595.23h5M506.32 601.44h5M510.48 595.15V602.31M507.98 595.15h5M507.98 602.31h5M512.14 595.57V601.25M509.64 595.57h5M509.64 601.25h5M513.80 595.08V602.34M511.30 595.08h5M511.30 602.34h5M515.46 595.23V604.08M512.96 595.23h5M512.96 604.08h5M517.12 596.05V602.52M514.62 596.05h5M514.62 602.52h5M518.78 596.18V604.12M516.28 596.18h5M516.28 604.12h5M520.44 596.33V604.46M517.94 596.33h5M517.94 604.46h5M522.10 597.33V605.42M519.60 597.33h5M519.60 605.42h5M523.75 597.97V604.35M521.25 597.97h5M521.25 604.35h5M525.41 598.38V605.24M522.91 598.38h5M522.91 605.24h5M527.07 599.80V605.38M524.57 599.80h5M524.57 605.38h5M528.73 601.51V604.93M526.23 601.51h5M526.23 604.93h5M530.39 601.54V605.58M527.89 601.54h5M527.89 605.58h5M532.05 602.28V605.60M529.55 602.28h5M529.55 605.60h5M533.71 602.44V605.36M531.21 602.44h5M531.21 605.36h5M535.37 602.17V605.51M532.87 602.17h5M532.87 605.51h5M537.03 602.47V605.41M534.53 602.47h5M534.53 605.41h5M538.69 602.09V605.32M536.19 602.09h5M536.19 605.32h5M540.35 602.17V605.42M537.85 602.17h5M537.85 605.42h5M542.01 601.98V605.28M539.51 601.98h5M539.51 605.28h5M543.67 601.61V606.21M541.17 601.61h5M541.17 606.21h5M545.32 602.13V605.76M542.82 602.13h5M542.82 605.76h5M546.98 602.19V605.78M544.48 602.19h5M544.48 605.78h5M548.64 602.50V605.48M546.14 602.50h5M546.14 605.48h5M550.30 601.13V605.75M547.80 601.13h5M547.80 605.75h5M551.96 600.48V604.71M549.46 600.48h5M549.46 604.71h5M553.62 599.99V603.99M551.12 599.99h5M551.12 603.99h5M555.28 599.22V604.21M552.78 599.22h5M552.78 604.21h5M556.94 598.59V604.01M554.44 598.59h5M554.44 604.01h5M558.60 597.41V602.86M556.10 597.41h5M556.10 602.86h5M560.26 596.53V603.09M557.76 596.53h5M557.76 603.09h5M561.92 595.81V604.16M559.42 595.81h5M559.42 604.16h5M563.58 596.14V600.98M561.08 596.14h5M561.08 600.98h5M565.23 592.44V598.17M562.73 592.44h5M562.73 598.17h5M566.89 585.54V594.79M564.39 585.54h5M564.39 594.79h5M568.55 580.36V593.00M566.05 580.36h5M566.05 593.00h5M570.21 575.75V592.73M567.71 575.75h5M567.71 592.73h5M571.87 573.83V592.31M569.37 573.83h5M569.37 592.31h5M573.53 570.43V584.44M571.03 570.43h5M571.03 584.44h5M575.19 568.83V589.72M572.69 568.83h5M572.69 589.72h5M576.85 577.01V590.14M574.35 577.01h5M574.35 590.14h5M578.51 576.70V588.47M576.01 576.70h5M576.01 588.47h5M580.17 579.85V587.69M577.67 579.85h5M577.67 587.69h5M581.83 580.13V588.75M579.33 580.13h5M579.33 588.75h5M583.49 581.25V592.59M580.99 581.25h5M580.99 592.59h5M585.14 576.38V597.87M582.64 576.38h5M582.64 597.87h5M586.80 579.87V593.12M584.30 579.87h5M584.30 593.12h5M588.46 576.69V591.66M585.96 576.69h5M585.96 591.66h5M590.12 576.09V591.54M587.62 576.09h5M587.62 591.54h5M591.78 578.68V590.20M589.28 578.68h5M589.28 590.20h5M593.44 579.05V592.06M590.94 579.05h5M590.94 592.06h5M595.10 581.39V593.37M592.60 581.39h5M592.60 593.37h5M596.76 581.04V593.22M594.26 581.04h5M594.26 593.22h5M598.42 582.55V593.83M595.92 582.55h5M595.92 593.83h5M600.08 582.51V592.71M597.58 582.51h5M597.58 592.71h5M601.74 581.28V596.05M599.24 581.28h5M599.24 596.05h5M603.40 586.09V596.39M600.90 586.09h5M600.90 596.39h5M605.06 584.12V595.24M602.56 584.12h5M602.56 595.24h5M606.71 585.44V598.56M604.21 585.44h5M604.21 598.56h5M608.37 585.69V597.71M605.87 585.69h5M605.87 597.71h5M610.03 588.50V598.08M607.53 588.50h5M607.53 598.08h5M611.69 587.93V597.32M609.19 587.93h5M609.19 597.32h5M613.35 588.54V597.65M610.85 588.54h5M610.85 597.65h5M615.01 587.99V598.74M612.51 587.99h5M612.51 598.74h5M616.67 585.84V597.67M614.17 585.84h5M614.17 597.67h5M618.33 583.10V596.87M615.83 583.10h5M615.83 596.87h5M619.99 578.86V595.45M617.49 578.86h5M617.49 595.45h5M621.65 581.50V594.05M619.15 581.50h5M619.15 594.05h5M623.31 583.22V593.91M620.81 583.22h5M620.81 593.91h5M624.97 583.32V597.51M622.47 583.32h5M622.47 597.51h5M626.62 581.44V596.19M624.12 581.44h5M624.12 596.19h5M628.28 579.96V595.28M625.78 579.96h5M625.78 595.28h5M629.94 575.76V594.19M627.44 575.76h5M627.44 594.19h5M631.60 576.33V591.27M629.10 576.33h5M629.10 591.27h5M633.26 575.15V591.52M630.76 575.15h5M630.76 591.52h5M634.92 575.69V589.21M632.42 575.69h5M632.42 589.21h5M636.58 573.63V587.13M634.08 573.63h5M634.08 587.13h5M638.24 566.83V587.23M635.74 566.83h5M635.74 587.23h5M639.90 566.79V586.03M637.40 566.79h5M637.40 586.03h5M641.56 569.38V586.11M639.06 569.38h5M639.06 586.11h5M643.22 575.36V588.74M640.72 575.36h5M640.72 588.74h5M644.88 575.27V589.73M642.38 575.27h5M642.38 589.73h5M646.53 576.89V587.28M644.03 576.89h5M644.03 587.28h5M648.19 575.00V589.83M645.69 575.00h5M645.69 589.83h5M649.85 574.71V590.97M647.35 574.71h5M647.35 590.97h5M651.51 573.86V589.76M649.01 573.86h5M649.01 589.76h5M653.17 573.18V588.11M650.67 573.18h5M650.67 588.11h5M654.83 573.64V587.39M652.33 573.64h5M652.33 587.39h5M656.49 575.60V591.40M653.99 575.60h5M653.99 591.40h5M658.15 577.32V590.32M655.65 577.32h5M655.65 590.32h5M659.81 576.33V594.42M657.31 576.33h5M657.31 594.42h5M661.47 581.22V594.10M658.97 581.22h5M658.97 594.10h5M663.13 579.24V595.14M660.63 579.24h5M660.63 595.14h5M664.79 581.48V597.29M662.29 581.48h5M662.29 597.29h5M666.44 582.05V592.86M663.94 582.05h5M663.94 592.86h5M668.10 584.18V596.09M665.60 584.18h5M665.60 596.09h5M669.76 582.17V592.97M667.26 582.17h5M667.26 592.97h5M671.42 581.24V595.49M668.92 581.24h5M668.92 595.49h5M673.08 582.59V593.30M670.58 582.59h5M670.58 593.30h5M674.74 581.63V595.61M672.24 581.63h5M672.24 595.61h5M676.40 582.16V595.37M673.90 582.16h5M673.90 595.37h5M678.06 582.13V593.08M675.56 582.13h5M675.56 593.08h5M679.72 581.07V595.06M677.22 581.07h5M677.22 595.06h5M681.38 582.54V593.32M678.88 582.54h5M678.88 593.32h5M683.04 580.63V592.37M680.54 580.63h5M680.54 592.37h5M684.70 582.79V592.62M682.20 582.79h5M682.20 592.62h5M686.36 580.76V591.29M683.86 580.76h5M683.86 591.29h5M688.01 579.69V592.88M685.51 579.69h5M685.51 592.88h5M689.67 582.44V592.88M687.17 582.44h5M687.17 592.88h5M691.33 578.18V592.74M688.83 578.18h5M688.83 592.74h5M692.99 579.77V588.90M690.49 579.77h5M690.49 588.90h5M694.65 580.39V591.15M692.15 580.39h5M692.15 591.15h5M696.31 578.63V588.55M693.81 578.63h5M693.81 588.55h5M697.97 577.91V591.86M695.47 577.91h5M695.47 591.86h5M699.63 577.29V590.33M697.13 577.29h5M697.13 590.33h5M701.29 575.54V587.02M698.79 575.54h5M698.79 587.02h5M702.95 572.94V585.60M700.45 572.94h5M700.45 585.60h5M704.61 568.92V584.84M702.11 568.92h5M702.11 584.84h5M706.27 572.68V587.93M703.77 572.68h5M703.77 587.93h5M707.92 570.72V588.52M705.42 570.72h5M705.42 588.52h5M709.58 568.03V581.10M707.08 568.03h5M707.08 581.10h5M711.24 567.44V584.25M708.74 567.44h5M708.74 584.25h5M712.90 569.05V583.73M710.40 569.05h5M710.40 583.73h5M714.56 564.42V583.27M712.06 564.42h5M712.06 583.27h5M716.22 565.06V582.73M713.72 565.06h5M713.72 582.73h5M717.88 568.77V584.07M715.38 568.77h5M715.38 584.07h5M719.54 564.87V585.75M717.04 564.87h5M717.04 585.75h5M721.20 564.55V580.92M718.70 564.55h5M718.70 580.92h5M722.86 562.52V580.89M720.36 562.52h5M720.36 580.89h5M724.52 562.36V577.86M722.02 562.36h5M722.02 577.86h5M726.18 565.58V581.42M723.68 565.58h5M723.68 581.42h5M727.83 561.79V578.78M725.33 561.79h5M725.33 578.78h5M729.49 561.42V583.98M726.99 561.42h5M726.99 583.98h5M731.15 558.05V593.14M728.65 558.05h5M728.65 593.14h5M732.81 548.95V578.01M730.31 548.95h5M730.31 578.01h5M734.47 549.49V576.84M731.97 549.49h5M731.97 576.84h5M736.13 547.50V576.41M733.63 547.50h5M733.63 576.41h5M737.79 549.11V577.55M735.29 549.11h5M735.29 577.55h5M739.45 542.05V571.52M736.95 542.05h5M736.95 571.52h5M741.11 533.53V572.94M738.61 533.53h5M738.61 572.94h5M742.77 525.15V572.62M740.27 525.15h5M740.27 572.62h5M744.43 530.74V557.73M741.93 530.74h5M741.93 557.73h5M746.09 520.23V560.94M743.59 520.23h5M743.59 560.94h5M747.75 522.01V546.77M745.25 522.01h5M745.25 546.77h5M749.40 522.45V543.60M746.90 522.45h5M746.90 543.60h5M751.06 507.30V536.47M748.56 507.30h5M748.56 536.47h5M752.72 501.40V532.09M750.22 501.40h5M750.22 532.09h5M754.38 502.90V534.28M751.88 502.90h5M751.88 534.28h5M756.04 490.77V528.86M753.54 490.77h5M753.54 528.86h5M757.70 476.37V519.50M755.20 476.37h5M755.20 519.50h5M759.36 477.04V524.22M756.86 477.04h5M756.86 524.22h5M761.02 459.54V511.58M758.52 459.54h5M758.52 511.58h5M762.68 477.30V514.15M760.18 477.30h5M760.18 514.15h5M764.34 477.89V513.38M761.84 477.89h5M761.84 513.38h5M766.00 455.48V515.64M763.50 455.48h5M763.50 515.64h5M767.66 456.16V521.43M765.16 456.16h5M765.16 521.43h5M769.31 462.73V515.41M766.81 462.73h5M766.81 515.41h5M770.97 472.39V519.17M768.47 472.39h5M768.47 519.17h5M772.63 460.99V509.19M770.13 460.99h5M770.13 509.19h5M774.29 463.58V516.26M771.79 463.58h5M771.79 516.26h5M775.95 470.06V515.67M773.45 470.06h5M773.45 515.67h5M777.61 460.75V518.00M775.11 460.75h5M775.11 518.00h5M779.27 467.94V514.86M776.77 467.94h5M776.77 514.86h5M780.93 460.11V512.89M778.43 460.11h5M778.43 512.89h5M782.59 450.53V510.62M780.09 450.53h5M780.09 510.62h5M784.25 456.53V514.12M781.75 456.53h5M781.75 514.12h5M785.91 434.53V508.42M783.41 434.53h5M783.41 508.42h5M787.57 430.14V503.37M785.07 430.14h5M785.07 503.37h5M789.22 428.72V485.73M786.72 428.72h5M786.72 485.73h5M790.88 425.97V476.96M788.38 425.97h5M788.38 476.96h5M792.54 432.99V482.94M790.04 432.99h5M790.04 482.94h5M794.20 453.66V500.13M791.70 453.66h5M791.70 500.13h5M795.86 438.06V500.71M793.36 438.06h5M793.36 500.71h5M797.52 464.25V508.16M795.02 464.25h5M795.02 508.16h5M799.18 457.99V506.98M796.68 457.99h5M796.68 506.98h5M800.84 469.43V511.12M798.34 469.43h5M798.34 511.12h5M802.50 466.74V515.58M800.00 466.74h5M800.00 515.58h5M804.16 470.19V521.04M801.66 470.19h5M801.66 521.04h5M805.82 481.51V515.54M803.32 481.51h5M803.32 515.54h5M807.48 476.82V515.90M804.98 476.82h5M804.98 515.90h5M809.14 486.78V527.57M806.64 486.78h5M806.64 527.57h5M810.79 491.03V530.36M808.29 491.03h5M808.29 530.36h5M812.45 491.00V522.16M809.95 491.00h5M809.95 522.16h5M814.11 501.28V520.38M811.61 501.28h5M811.61 520.38h5M815.77 505.52V529.49M813.27 505.52h5M813.27 529.49h5M817.43 504.84V528.21M814.93 504.84h5M814.93 528.21h5M819.09 507.95V533.82M816.59 507.95h5M816.59 533.82h5M820.75 515.08V546.02M818.25 515.08h5M818.25 546.02h5M822.41 510.03V541.31M819.91 510.03h5M819.91 541.31h5M824.07 515.85V548.49M821.57 515.85h5M821.57 548.49h5M825.73 523.95V546.26M823.23 523.95h5M823.23 546.26h5M827.39 521.56V547.78M824.89 521.56h5M824.89 547.78h5M829.05 522.10V548.19M826.55 522.10h5M826.55 548.19h5M830.70 529.35V552.28M828.20 529.35h5M828.20 552.28h5M832.36 523.28V557.05M829.86 523.28h5M829.86 557.05h5M834.02 514.38V550.69M831.52 514.38h5M831.52 550.69h5M835.68 516.39V550.94M833.18 516.39h5M833.18 550.94h5M837.34 504.37V547.80M834.84 504.37h5M834.84 547.80h5M839.00 508.95V552.24M836.50 508.95h5M836.50 552.24h5M840.66 501.55V534.67M838.16 501.55h5M838.16 534.67h5M842.32 497.50V533.71M839.82 497.50h5M839.82 533.71h5M843.98 433.07V528.36M841.48 433.07h5M841.48 528.36h5M845.64 399.84V443.68M843.14 399.84h5M843.14 443.68h5M847.30 350.00V436.43M844.80 350.00h5M844.80 436.43h5M848.96 330.52V399.08M846.46 330.52h5M846.46 399.08h5M850.61 319.78V392.59M848.11 319.78h5M848.11 392.59h5M852.27 266.44V382.76M849.77 266.44h5M849.77 382.76h5M853.93 271.52V411.79M851.43 271.52h5M851.43 411.79h5M855.59 261.50V372.59M853.09 261.50h5M853.09 372.59h5M857.25 236.81V310.87M854.75 236.81h5M854.75 310.87h5M858.91 172.01V301.61M856.41 172.01h5M856.41 301.61h5M860.57 93.02V273.23M858.07 93.02h5M858.07 273.23h5M862.23 101.04V267.67M859.73 101.04h5M859.73 267.67h5M863.89 167.69V273.84M861.39 167.69h5M861.39 273.84h5M865.55 171.40V340.49M863.05 171.40h5M863.05 340.49h5M867.21 175.10V397.27M864.71 175.10h5M864.71 397.27h5M868.87 178.19V468.24M866.37 178.19h5M866.37 468.24h5M870.53 247.37V470.67M868.03 247.37h5M868.03 470.67h5M872.18 290.91V458.15M869.68 290.91h5M869.68 458.15h5M873.84 314.91V440.55M871.34 314.91h5M871.34 440.55h5M875.50 341.10V475.51M873.00 341.10h5M873.00 475.51h5M877.16 397.01V487.22M874.66 397.01h5M874.66 487.22h5M878.82 390.54V493.01M876.32 390.54h5M876.32 493.01h5M880.48 387.74V506.88M877.98 387.74h5M877.98 506.88h5M882.14 394.98V514.03M879.64 394.98h5M879.64 514.03h5M883.80 418.79V514.50M881.30 418.79h5M881.30 514.50h5M885.46 423.71V526.01M882.96 423.71h5M882.96 526.01h5M887.12 435.25V525.40M884.62 435.25h5M884.62 525.40h5M888.78 416.93V520.11M886.28 416.93h5M886.28 520.11h5M890.44 427.68V505.85M887.94 427.68h5M887.94 505.85h5M892.09 423.46V509.34M889.59 423.46h5M889.59 509.34h5M893.75 426.08V503.34M891.25 426.08h5M891.25 503.34h5M895.41 419.59V511.40M892.91 419.59h5M892.91 511.40h5M897.07 438.13V512.30M894.57 438.13h5M894.57 512.30h5M898.73 428.49V502.35M896.23 428.49h5M896.23 502.35h5M900.39 414.39V525.94M897.89 414.39h5M897.89 525.94h5M902.05 426.86V527.40M899.55 426.86h5M899.55 527.40h5M903.71 409.62V508.75M901.21 409.62h5M901.21 508.75h5M905.37 388.49V468.68M902.87 388.49h5M902.87 468.68h5M907.03 387.12V483.14M904.53 387.12h5M904.53 483.14h5M908.69 357.90V483.70M906.19 357.90h5M906.19 483.70h5M910.35 378.91V472.29M907.85 378.91h5M907.85 472.29h5M912.00 392.07V454.00M909.50 392.07h5M909.50 454.00h5M913.66 400.36V479.91M911.16 400.36h5M911.16 479.91h5M915.32 415.44V488.96M912.82 415.44h5M912.82 488.96h5M916.98 417.50V488.97M914.48 417.50h5M914.48 488.97h5M918.64 426.57V493.97M916.14 426.57h5M916.14 493.97h5M920.30 441.24V476.99M917.80 441.24h5M917.80 476.99h5M921.96 443.48V493.82M919.46 443.48h5M919.46 493.82h5M923.62 452.51V509.33M921.12 452.51h5M921.12 509.33h5M925.28 446.72V518.46M922.78 446.72h5M922.78 518.46h5M926.94 463.00V520.54M924.44 463.00h5M924.44 520.54h5M928.60 463.69V539.50M926.10 463.69h5M926.10 539.50h5M930.26 465.74V534.37M927.76 465.74h5M927.76 534.37h5M931.92 473.56V549.50M929.42 473.56h5M929.42 549.50h5M933.57 485.64V538.77M931.07 485.64h5M931.07 538.77h5M935.23 483.05V552.70M932.73 483.05h5M932.73 552.70h5M936.89 482.08V545.09M934.39 482.08h5M934.39 545.09h5M938.55 491.22V550.48M936.05 491.22h5M936.05 550.48h5M940.21 491.87V561.83M937.71 491.87h5M937.71 561.83h5M941.87 499.82V558.42M939.37 499.82h5M939.37 558.42h5M943.53 494.18V557.89M941.03 494.18h5M941.03 557.89h5M945.19 506.25V554.59M942.69 506.25h5M942.69 554.59h5M946.85 509.11V552.47M944.35 509.11h5M944.35 552.47h5M948.51 501.74V552.66M946.01 501.74h5M946.01 552.66h5M950.17 495.78V546.55M947.67 495.78h5M947.67 546.55h5M951.83 493.91V546.69M949.33 493.91h5M949.33 546.69h5M953.48 487.45V539.38M950.98 487.45h5M950.98 539.38h5M955.14 476.01V544.83M952.64 476.01h5M952.64 544.83h5M956.80 472.91V524.90M954.30 472.91h5M954.30 524.90h5M958.46 462.29V521.78M955.96 462.29h5M955.96 521.78h5M960.12 453.92V521.07M957.62 453.92h5M957.62 521.07h5M961.78 451.33V511.35M959.28 451.33h5M959.28 511.35h5M963.44 434.39V514.49M960.94 434.39h5M960.94 514.49h5M965.10 444.70V522.57M962.60 444.70h5M962.60 522.57h5M966.76 428.61V501.66M964.26 428.61h5M964.26 501.66h5M968.42 437.14V508.47M965.92 437.14h5M965.92 508.47h5M970.08 423.85V490.67M967.58 423.85h5M967.58 490.67h5M971.74 379.17V541.74M969.24 379.17h5M969.24 541.74h5M973.39 370.46V509.45M970.89 370.46h5M970.89 509.45h5M975.05 368.94V506.97M972.55 368.94h5M972.55 506.97h5M976.71 321.27V516.88M974.21 321.27h5M974.21 516.88h5M978.37 335.47V462.11M975.87 335.47h5M975.87 462.11h5M980.03 284.67V436.67M977.53 284.67h5M977.53 436.67h5M981.69 293.05V426.01M979.19 293.05h5M979.19 426.01h5M983.35 269.67V388.90M980.85 269.67h5M980.85 388.90h5M985.01 249.16V375.09M982.51 249.16h5M982.51 375.09h5M986.67 232.39V371.20M984.17 232.39h5M984.17 371.20h5M988.33 248.44V385.47M985.83 248.44h5M985.83 385.47h5M989.99 220.82V377.01M987.49 220.82h5M987.49 377.01h5M991.65 208.43V376.29M989.15 208.43h5M989.15 376.29h5M993.31 197.93V380.61M990.81 197.93h5M990.81 380.61h5M994.96 212.75V371.97M992.46 212.75h5M992.46 371.97h5M996.62 204.72V386.16M994.12 204.72h5M994.12 386.16h5M998.28 237.81V349.73M995.78 237.81h5M995.78 349.73h5M999.94 211.51V385.55M997.44 211.51h5M997.44 385.55h5M1001.60 217.13V392.03M999.10 217.13h5M999.10 392.03h5M1003.26 259.52V419.37M1000.76 259.52h5M1000.76 419.37h5M1004.92 268.40V414.33M1002.42 268.40h5M1002.42 414.33h5M1006.58 290.54V417.63M1004.08 290.54h5M1004.08 417.63h5M1008.24 346.29V416.53M1005.74 346.29h5M1005.74 416.53h5M1009.90 367.05V407.34M1007.40 367.05h5M1007.40 407.34h5M1011.56 387.80V444.93M1009.06 387.80h5M1009.06 444.93h5M1013.22 418.98V468.83M1010.72 418.98h5M1010.72 468.83h5M1014.87 412.57V473.51M1012.37 412.57h5M1012.37 473.51h5M1016.53 429.15V494.88M1014.03 429.15h5M1014.03 494.88h5M1018.19 443.67V498.87M1015.69 443.67h5M1015.69 498.87h5M1019.85 455.88V500.14M1017.35 455.88h5M1017.35 500.14h5M1021.51 454.29V519.65M1019.01 454.29h5M1019.01 519.65h5M1023.17 459.57V534.78M1020.67 459.57h5M1020.67 534.78h5" stroke="#595959" stroke-width="1" fill="none"/><rect x="247.5" y="88.7" width="776.5" height="518.4" fill="none" stroke="#595959" stroke-width="1.3"/><path d="M247.5 88.10000000000001V607.7" stroke="#262626" stroke-width="1.3"/><g font-size="11.7" fill="#000" style="filter:grayscale(1)"><text x="234.3" y="611.30" text-anchor="end">0</text><text x="234.3" y="586.61" text-anchor="end">40</text><text x="234.3" y="561.93" text-anchor="end">80</text><text x="234.3" y="537.24" text-anchor="end">120</text><text x="234.3" y="512.56" text-anchor="end">160</text><text x="234.3" y="487.87" text-anchor="end">200</text><text x="234.3" y="463.19" text-anchor="end">240</text><text x="234.3" y="438.50" text-anchor="end">280</text><text x="234.3" y="413.81" text-anchor="end">320</text><text x="234.3" y="389.13" text-anchor="end">360</text><text x="234.3" y="364.44" text-anchor="end">400</text><text x="234.3" y="339.76" text-anchor="end">440</text><text x="234.3" y="315.07" text-anchor="end">480</text><text x="234.3" y="290.39" text-anchor="end">520</text><text x="234.3" y="265.70" text-anchor="end">560</text><text x="234.3" y="241.01" text-anchor="end">600</text><text x="234.3" y="216.33" text-anchor="end">640</text><text x="234.3" y="191.64" text-anchor="end">680</text><text x="234.3" y="166.96" text-anchor="end">720</text><text x="234.3" y="142.27" text-anchor="end">760</text><text x="234.3" y="117.59" text-anchor="end">800</text><text x="234.3" y="92.90" text-anchor="end">840</text></g><g font-size="9.8" fill="#000" text-rendering="geometricPrecision" style="filter:grayscale(1)"><text transform="translate(251.68 613.0) rotate(-90)" text-anchor="end">5-Οκτ</text><text transform="translate(259.98 613.0) rotate(-90)" text-anchor="end">19-Οκτ</text><text transform="translate(268.27 613.0) rotate(-90)" text-anchor="end">30-Οκτ</text><text transform="translate(276.57 613.0) rotate(-90)" text-anchor="end">11-Νοε</text><text transform="translate(284.86 613.0) rotate(-90)" text-anchor="end">23-Νοε</text><text transform="translate(293.16 613.0) rotate(-90)" text-anchor="end">04-Δεκ</text><text transform="translate(301.46 613.0) rotate(-90)" text-anchor="end">16-Δεκ</text><text transform="translate(309.75 613.0) rotate(-90)" text-anchor="end">28-Δεκ</text><text transform="translate(318.05 613.0) rotate(-90)" text-anchor="end">8-Ιαν</text><text transform="translate(326.34 613.0) rotate(-90)" text-anchor="end">20-Ιαν</text><text transform="translate(334.64 613.0) rotate(-90)" text-anchor="end">01-Φεβ</text><text transform="translate(342.93 613.0) rotate(-90)" text-anchor="end">09-Φεβ</text><text transform="translate(351.23 613.0) rotate(-90)" text-anchor="end">15-Φεβ</text><text transform="translate(359.53 613.0) rotate(-90)" text-anchor="end">21-Φεβ</text><text transform="translate(367.82 613.0) rotate(-90)" text-anchor="end">26-Φεβ</text><text transform="translate(376.12 613.0) rotate(-90)" text-anchor="end">04-Μαρ</text><text transform="translate(384.41 613.0) rotate(-90)" text-anchor="end">10-Μαρ</text><text transform="translate(392.71 613.0) rotate(-90)" text-anchor="end">16-Μαρ</text><text transform="translate(401.01 613.0) rotate(-90)" text-anchor="end">22-Μαρ</text><text transform="translate(409.30 613.0) rotate(-90)" text-anchor="end">28-Μαρ</text><text transform="translate(417.60 613.0) rotate(-90)" text-anchor="end">02-Απρ</text><text transform="translate(425.89 613.0) rotate(-90)" text-anchor="end">08-Απρ</text><text transform="translate(434.19 613.0) rotate(-90)" text-anchor="end">14-Απρ</text><text transform="translate(442.49 613.0) rotate(-90)" text-anchor="end">20-Απρ</text><text transform="translate(450.78 613.0) rotate(-90)" text-anchor="end">26-Απρ</text><text transform="translate(459.08 613.0) rotate(-90)" text-anchor="end">02-Μαϊ</text><text transform="translate(467.37 613.0) rotate(-90)" text-anchor="end">07-Μαϊ</text><text transform="translate(475.67 613.0) rotate(-90)" text-anchor="end">12-Μαϊ</text><text transform="translate(483.97 613.0) rotate(-90)" text-anchor="end">18-Μαϊ</text><text transform="translate(492.26 613.0) rotate(-90)" text-anchor="end">24-Μαϊ</text><text transform="translate(500.56 613.0) rotate(-90)" text-anchor="end">30-Μαϊ</text><text transform="translate(508.85 613.0) rotate(-90)" text-anchor="end">04-Ιουν</text><text transform="translate(517.15 613.0) rotate(-90)" text-anchor="end">10-Ιουν</text><text transform="translate(525.45 613.0) rotate(-90)" text-anchor="end">15-Ιουν</text><text transform="translate(533.74 613.0) rotate(-90)" text-anchor="end">20-Ιουν</text><text transform="translate(542.04 613.0) rotate(-90)" text-anchor="end">25-Ιουν</text><text transform="translate(550.33 613.0) rotate(-90)" text-anchor="end">30-Ιουν</text><text transform="translate(558.63 613.0) rotate(-90)" text-anchor="end">05-Ιουλ</text><text transform="translate(566.93 613.0) rotate(-90)" text-anchor="end">10-Ιουλ</text><text transform="translate(575.22 613.0) rotate(-90)" text-anchor="end">15-Ιουλ</text><text transform="translate(583.52 613.0) rotate(-90)" text-anchor="end">20-Ιουλ</text><text transform="translate(591.81 613.0) rotate(-90)" text-anchor="end">25-Ιουλ</text><text transform="translate(600.11 613.0) rotate(-90)" text-anchor="end">30-Ιουλ</text><text transform="translate(608.41 613.0) rotate(-90)" text-anchor="end">04-Αυγ</text><text transform="translate(616.70 613.0) rotate(-90)" text-anchor="end">09-Αυγ</text><text transform="translate(625.00 613.0) rotate(-90)" text-anchor="end">14-Αυγ</text><text transform="translate(633.29 613.0) rotate(-90)" text-anchor="end">19-Αυγ</text><text transform="translate(641.59 613.0) rotate(-90)" text-anchor="end">24-Αυγ</text><text transform="translate(649.88 613.0) rotate(-90)" text-anchor="end">29-Αυγ</text><text transform="translate(658.18 613.0) rotate(-90)" text-anchor="end">03-Σεπ</text><text transform="translate(666.48 613.0) rotate(-90)" text-anchor="end">08-Σεπ</text><text transform="translate(674.77 613.0) rotate(-90)" text-anchor="end">13-Σεπ</text><text transform="translate(683.07 613.0) rotate(-90)" text-anchor="end">18-Σεπ</text><text transform="translate(691.36 613.0) rotate(-90)" text-anchor="end">23-Σεπ</text><text transform="translate(699.66 613.0) rotate(-90)" text-anchor="end">28-Σεπ</text><text transform="translate(707.96 613.0) rotate(-90)" text-anchor="end">03-Οκτ</text><text transform="translate(716.25 613.0) rotate(-90)" text-anchor="end">08-Οκτ</text><text transform="translate(724.55 613.0) rotate(-90)" text-anchor="end">13-Οκτ</text><text transform="translate(732.84 613.0) rotate(-90)" text-anchor="end">18-Οκτ</text><text transform="translate(741.14 613.0) rotate(-90)" text-anchor="end">23-Οκτ</text><text transform="translate(749.44 613.0) rotate(-90)" text-anchor="end">28-Οκτ</text><text transform="translate(757.73 613.0) rotate(-90)" text-anchor="end">02-Νοε</text><text transform="translate(766.03 613.0) rotate(-90)" text-anchor="end">07-Νοε</text><text transform="translate(774.32 613.0) rotate(-90)" text-anchor="end">12-Νοε</text><text transform="translate(782.62 613.0) rotate(-90)" text-anchor="end">17-Νοε</text><text transform="translate(790.92 613.0) rotate(-90)" text-anchor="end">22-Νοε</text><text transform="translate(799.21 613.0) rotate(-90)" text-anchor="end">27-Νοε</text><text transform="translate(807.51 613.0) rotate(-90)" text-anchor="end">02-Δεκ</text><text transform="translate(815.80 613.0) rotate(-90)" text-anchor="end">07-Δεκ</text><text transform="translate(824.10 613.0) rotate(-90)" text-anchor="end">12-Δεκ</text><text transform="translate(832.40 613.0) rotate(-90)" text-anchor="end">17-Δεκ</text><text transform="translate(840.69 613.0) rotate(-90)" text-anchor="end">22-Δεκ</text><text transform="translate(848.99 613.0) rotate(-90)" text-anchor="end">27-Δεκ</text><text transform="translate(857.28 613.0) rotate(-90)" text-anchor="end">01-Ιαν</text><text transform="translate(865.58 613.0) rotate(-90)" text-anchor="end">06-Ιαν</text><text transform="translate(873.88 613.0) rotate(-90)" text-anchor="end">11-Ιαν</text><text transform="translate(882.17 613.0) rotate(-90)" text-anchor="end">16-Ιαν</text><text transform="translate(890.47 613.0) rotate(-90)" text-anchor="end">21-Ιαν</text><text transform="translate(898.76 613.0) rotate(-90)" text-anchor="end">26-Ιαν</text><text transform="translate(907.06 613.0) rotate(-90)" text-anchor="end">31-Ιαν</text><text transform="translate(915.35 613.0) rotate(-90)" text-anchor="end">05-Φεβ</text><text transform="translate(923.65 613.0) rotate(-90)" text-anchor="end">10-Φεβ</text><text transform="translate(931.95 613.0) rotate(-90)" text-anchor="end">15-Φεβ</text><text transform="translate(940.24 613.0) rotate(-90)" text-anchor="end">20-Φεβ</text><text transform="translate(948.54 613.0) rotate(-90)" text-anchor="end">25-Φεβ</text><text transform="translate(956.83 613.0) rotate(-90)" text-anchor="end">02-Μαρ</text><text transform="translate(965.13 613.0) rotate(-90)" text-anchor="end">07-Μαρ</text><text transform="translate(973.43 613.0) rotate(-90)" text-anchor="end">12-Μαρ</text><text transform="translate(981.72 613.0) rotate(-90)" text-anchor="end">17-Μαρ</text><text transform="translate(990.02 613.0) rotate(-90)" text-anchor="end">22-Μαρ</text><text transform="translate(998.31 613.0) rotate(-90)" text-anchor="end">27-Μαρ</text><text transform="translate(1006.61 613.0) rotate(-90)" text-anchor="end">01-Απρ</text><text transform="translate(1014.91 613.0) rotate(-90)" text-anchor="end">06-Απρ</text><text transform="translate(1023.20 613.0) rotate(-90)" text-anchor="end">11-Απρ</text></g><g style="filter:grayscale(1)"><text transform="translate(166.8 527) rotate(-90)" font-size="18" font-weight="bold" textLength="357" lengthAdjust="spacingAndGlyphs">Σχετικός Ρυθμός Έκκρισης Ιικού Φορτίου</text><text x="574.1" y="702.8" font-size="18" font-weight="bold" textLength="107" lengthAdjust="spacingAndGlyphs">Ημερομηνία</text></g></svg></body></html>
